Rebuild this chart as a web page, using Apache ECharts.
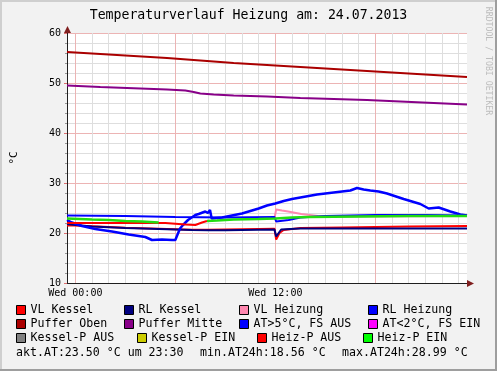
<!DOCTYPE html>
<html><head><meta charset="utf-8">
<script src="https://cdn.jsdelivr.net/npm/echarts@6/dist/echarts.min.js"></script>
<style>html,body{margin:0;padding:0;background:#f2f2f2;}#c{width:497px;height:371px;}</style>
</head><body><div id="c"></div>
<script>
// ---- data (hours relative to Wed 00:00, temperatures in °C) ----
const titleText = 'Temperaturverlauf Heizung am: 24.07.2013';
const xTickLabels = {0: 'Wed 00:00', 12: 'Wed 12:00'};
const seriesNames = ['VL Kessel','RL Kessel','VL Heizung','RL Heizung','Puffer Oben','Puffer Mitte','AT>5°C, FS AUS','AT<2°C, FS EIN','Kessel-P AUS','Kessel-P EIN','Heiz-P AUS','Heiz-P EIN'];

const tVLKessel = [-0.5,0,1,2,3,4,5,6,7,8,9,10,11,11.95,12.05,12.25,12.5,13.5,16,20,23.5];
const vVLKessel = [21.5,21.5,21.35,21.2,21.05,20.95,20.85,20.75,20.65,20.65,20.7,20.75,20.8,20.85,18.7,20.0,20.6,21.0,21.1,21.3,21.4];

const tRLKessel = [-0.5,0,1,2,3,4,5,6,7,8,9,10,11,11.95,12.05,12.35,13.5,16,20,23.5];
const vRLKessel = [21.8,21.6,21.3,21.15,21.0,20.9,20.8,20.7,20.6,20.55,20.55,20.6,20.65,20.7,19.3,20.7,20.9,20.9,20.9,20.9];

const tVLHeizung = [11.95,12.05,12.4,12.76,13.56,14.56,16,20,23.5];
const vVLHeizung = [23.0,24.7,24.5,24.3,23.8,23.4,23.3,23.35,23.4];

const tRLHeizung = [-0.5,3,6,9,11.95,12.05,12.15,12.8,13.5,15,18,21,23.5];
const vRLHeizung = [23.5,23.4,23.2,23.1,23.2,22.3,22.1,22.6,23.1,23.4,23.6,23.6,23.5];

const tPufferOben = [-0.5,1.5,3.5,5.5,7.5,9.5,11.5,13.5,15.5,17.5,19.5,21.5,23.5];
const vPufferOben = [56.2,55.8,55.4,55.0,54.5,54.0,53.6,53.2,52.8,52.4,52.0,51.6,51.2];

const tPufferMitte = [-0.5,1.5,3.5,5.5,6.6,7.1,7.5,8.3,9.5,11.5,13.5,15.5,17.5,19.5,21.5,23.5];
const vPufferMitte = [49.5,49.2,48.95,48.7,48.5,48.2,47.9,47.7,47.5,47.3,47.0,46.8,46.6,46.3,46.0,45.7];

const tAussen = [-0.5,-0.2,0.4,1.2,2.2,3.2,4.2,4.6,5.2,5.8,6.0,6.28,6.46,6.76,7.2,7.4,7.8,7.95,8.08,8.18,8.8,10.0,10.5,11.0,11.5,12.0,12.5,13.0,13.5,14.0,14.5,15.0,15.5,16.0,16.5,16.9,17.3,17.7,18.2,18.7,19.7,20.7,21.2,21.8,22.5,23.1,23.5];
const vAussen = [22.6,22.1,21.4,20.8,20.3,19.7,19.2,18.6,18.7,18.6,18.6,20.9,21.6,22.6,23.6,23.8,24.3,24.0,24.6,22.9,23.1,23.9,24.4,24.9,25.5,25.9,26.4,26.8,27.1,27.4,27.7,27.9,28.1,28.3,28.5,29.0,28.7,28.5,28.3,27.9,26.8,25.8,24.9,25.1,24.3,23.7,23.5];

const tFrost = [], vFrost = [];
const tKesselPAus = [], vKesselPAus = [];
const tKesselPEin = [], vKesselPEin = [];

const tHeizPAus = [-0.5,2,4,5.4,6.6,7.2,7.6,7.9];
const vHeizPAus = [22.0,22.0,22.0,22.0,21.7,21.6,22.1,22.4];

const tHeizPEin = [-0.5,1,2,3,4,5.0,6,7.9,8.5,9.5,11,12,13,14,17,20,23.5];
const vHeizPEin = [22.9,22.7,22.6,22.4,22.3,22.1,null,22.4,22.5,22.7,22.8,22.9,23.1,23.2,23.3,23.4,23.4];

const summaryTexts = ['akt.AT:23.50 °C um 23:30', 'min.AT24h:18.56 °C', 'max.AT24h:28.99 °C'];
const creditText = 'RRDTOOL / TOBI OETIKER';

// ---- styling / layout ----
const MONO = '"DejaVu Sans Mono", monospace';
const seriesColors = ['#ff0000','#000080','#ff88b0','#0000ff','#aa0000','#880088','#0000ff','#ff00ff','#808080','#cccc00','#ff0000','#00ff00'];
const lineColorsOverride = {11: '#22dd11'};
const seriesWidths = [2,2,2,2,2,2,2.5,2,2,2,2,2.5];
const legendPos = [[16,304],[124,304],[239,304],[368,304],[16,318],[124,318],[239,318],[368,318],[16,332],[137,332],[257,332],[363,332]];
const summaryX = [16,200,342];

const times = [tVLKessel,tRLKessel,tVLHeizung,tRLHeizung,tPufferOben,tPufferMitte,tAussen,tFrost,tKesselPAus,tKesselPEin,tHeizPAus,tHeizPEin];
const values = [vVLKessel,vRLKessel,vVLHeizung,vRLHeizung,vPufferOben,vPufferMitte,vAussen,vFrost,vKesselPAus,vKesselPEin,vHeizPAus,vHeizPEin];

const MAJOR = '#ecb4b4', MINOR = '#dedede', T = 'rgba(0,0,0,0)';
const xSplitColors = [T, MAJOR, T, MINOR, T, MINOR, T, MINOR, T, MINOR, T, MINOR];

const chart = echarts.init(document.getElementById('c'), null, {renderer: 'canvas', width: 497, height: 371});

const series = seriesNames.map((name, i) => ({
  name, type: 'line', showSymbol: false, symbol: 'none', animation: false,
  connectNulls: false,
  data: times[i].map((t, j) => [t, values[i][j]]),
  itemStyle: {color: seriesColors[i]},
  lineStyle: {color: lineColorsOverride[i] || seriesColors[i], width: seriesWidths[i]}
}));

const legends = seriesNames.map((name, i) => ({
  data: [name], left: legendPos[i][0], top: legendPos[i][1], padding: 0,
  icon: 'rect', itemWidth: 9, itemHeight: 9, selectedMode: false,
  itemStyle: {borderColor: '#000', borderWidth: 1},
  textStyle: {fontFamily: MONO, fontSize: 11.6, color: '#000'}
}));

const graphics = [
  {type: 'rect', shape: {x: 0, y: 0, width: 497, height: 2}, style: {fill: '#cfcfcf'}, silent: true},
  {type: 'rect', shape: {x: 0, y: 0, width: 2, height: 371}, style: {fill: '#cfcfcf'}, silent: true},
  {type: 'rect', shape: {x: 0, y: 369, width: 497, height: 2}, style: {fill: '#9e9e9e'}, silent: true},
  {type: 'rect', shape: {x: 495, y: 0, width: 2, height: 371}, style: {fill: '#9e9e9e'}, silent: true},
  {type: 'polygon', shape: {points: [[467, 280], [474, 283.5], [467, 287]]}, style: {fill: '#801f1f'}, z: 10},
  {type: 'polygon', shape: {points: [[64, 33], [67.5, 26], [71, 33]]}, style: {fill: '#801f1f'}, z: 10},
  {type: 'text', x: 488, y: 61, rotation: -Math.PI / 2,
    style: {text: creditText, font: '8.2px ' + MONO, fill: '#bdbdbd', align: 'center', verticalAlign: 'middle'}}
].concat(summaryTexts.map((s, i) => ({
  type: 'text', x: summaryX[i], y: 353,
  style: {text: s, font: '11.6px ' + MONO, fill: '#000', align: 'left', verticalAlign: 'middle'}
})));

chart.setOption({
  animation: false,
  backgroundColor: '#f2f2f2',
  title: {text: titleText, left: 'center', top: 9, padding: 0,
    textStyle: {fontFamily: MONO, fontSize: 13.2, fontWeight: 'normal', color: '#000'}},
  grid: {left: 67, top: 33, width: 400, height: 250, show: true, backgroundColor: '#ffffff', borderWidth: 0,
    containLabel: false, outerBoundsMode: 'none'},
  xAxis: {
    type: 'value', min: -0.5, max: 23.5, interval: 0.5,
    axisLine: {show: true, onZero: false, lineStyle: {color: '#1f1f1f', width: 1}},
    axisTick: {show: false},
    splitLine: {show: true, lineStyle: {color: xSplitColors, width: 1}},
    axisLabel: {show: true, margin: 5, fontFamily: MONO, fontSize: 10, color: '#000',
      formatter: v => xTickLabels[v] !== undefined ? xTickLabels[v] : ''}
  },
  yAxis: {
    type: 'value', min: 10, max: 60, interval: 10,
    name: '°C', nameLocation: 'middle', nameGap: 47, nameRotate: 90,
    nameTextStyle: {fontFamily: MONO, fontSize: 11, color: '#000'},
    axisLine: {show: true, onZero: false, lineStyle: {color: '#1f1f1f', width: 1}},
    axisTick: {show: true, length: 3, lineStyle: {color: '#de6f6f'}},
    minorTick: {show: true, splitNumber: 5, length: 2, lineStyle: {color: '#999'}},
    splitLine: {show: true, lineStyle: {color: MAJOR, width: 1}},
    minorSplitLine: {show: true, lineStyle: {color: MINOR, width: 1}},
    axisLabel: {margin: 6, fontFamily: MONO, fontSize: 10, color: '#000'}
  },
  legend: legends,
  series,
  graphic: graphics
});
</script></body></html>
